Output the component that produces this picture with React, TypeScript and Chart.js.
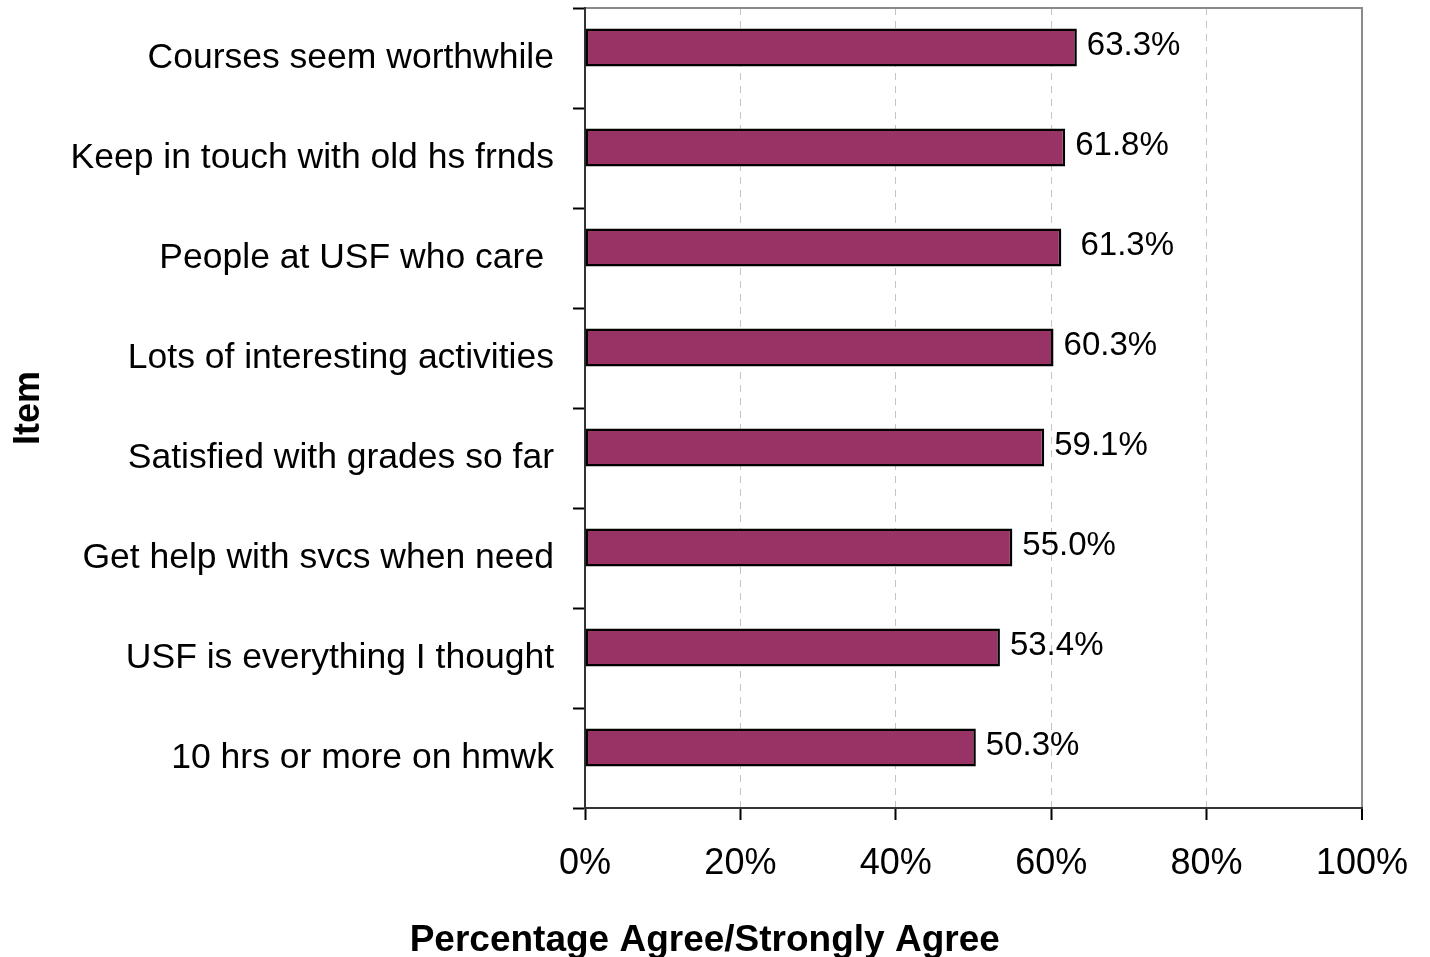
import React, { useEffect, useRef } from "react";
import { Chart, registerables } from "chart.js";

Chart.register(...registerables);

const categories = [
  "Courses seem worthwhile",
  "Keep in touch with old hs frnds",
  "People at USF who care ",
  "Lots of interesting activities",
  "Satisfied with grades so far",
  "Get help with svcs when need",
  "USF is everything I thought",
  "10 hrs or more on hmwk",
];
const values = [63.3, 61.8, 61.3, 60.3, 59.1, 55.0, 53.4, 50.3];
const valueLabels = ["63.3%", "61.8%", " 61.3%", "60.3%", "59.1%", "55.0%", "53.4%", "50.3%"];
const spacerValues = categories.map(() => null);
const xMin = 0;
const xMax = 100;
const xStep = 20;
const xTitle = "Percentage Agree/Strongly Agree  ";
const yTitle = "Item";

const FONT = "'Liberation Sans', Arial, Helvetica, sans-serif";
const TITLE_H = 35;

const valueLabelPlugin = {
  id: "valueLabels",
  afterDatasetsDraw(chart: any) {
    const meta = chart.getDatasetMeta(0);
    const ctx = chart.ctx;
    ctx.save();
    ctx.font = `33px ${FONT}`;
    ctx.fillStyle = "#000";
    ctx.textAlign = "left";
    ctx.textBaseline = "middle";
    meta.data.forEach((el: any, i: number) => {
      ctx.fillText(valueLabels[i], el.x + 10, el.y - 1.5);
    });
    ctx.restore();
  },
};

export default function App() {
  const canvasRef = useRef<HTMLCanvasElement | null>(null);

  useEffect(() => {
    if (!canvasRef.current) return;
    const chart = new Chart(canvasRef.current, {
      type: "bar",
      data: {
        labels: categories,
        datasets: [
          {
            data: values,
            backgroundColor: "#993366",
            borderColor: "#000000",
            borderWidth: 2.5,
            borderSkipped: false,
            categoryPercentage: 0.42,
            barPercentage: 1.81,
          },
          {
            data: spacerValues as any,
            backgroundColor: "rgba(0,0,0,0)",
            borderWidth: 0,
            categoryPercentage: 0.42,
            barPercentage: 1.81,
          },
        ],
      },
      options: {
        indexAxis: "y",
        responsive: false,
        animation: false,
        layout: { padding: { top: 8, left: 0, right: 0, bottom: 0 } },
        plugins: {
          legend: { display: false },
          tooltip: { enabled: false },
          title: {
            display: true,
            position: "bottom",
            text: xTitle,
            color: "#000",
            font: { family: FONT, size: 37, weight: "bold", lineHeight: 1 },
            padding: { top: 0, bottom: -2 },
          },
        },
        scales: {
          x: {
            type: "linear",
            position: "bottom",
            min: xMin,
            max: xMax,
            ticks: {
              stepSize: xStep,
              color: "#000",
              padding: 22,
              font: { family: FONT, size: 36 },
              callback: (v: any) => `${v}%`,
              maxRotation: 0,
            },
            grid: {
              color: (c: any) =>
                c.tick && c.tick.value === xMin
                  ? "rgba(0,0,0,0)"
                  : c.tick && c.tick.value === xMax
                  ? "#8a8a8a"
                  : "#c4c4c4",
              lineWidth: (c: any) => (c.tick && c.tick.value === xMax ? 2 : 1),
              drawTicks: true,
              tickLength: 12,
              tickColor: "#000",
              tickWidth: 2,
            },
            border: {
              display: true,
              color: "#333",
              width: 2,
              dash: (c: any) =>
                c.tick && (c.tick.value === xMin || c.tick.value === xMax) ? [] : [7, 6],
            },
            afterFit: (s: any) => {
              s.height = 957 - TITLE_H - 808;
              s.paddingRight = 68;
              s.paddingTop = 0;
              s.paddingBottom = 0;
            },
          },
          x2: {
            type: "linear",
            position: "top",
            min: xMin,
            max: xMax,
            ticks: { display: false },
            grid: { display: false, drawTicks: false },
            border: { display: true, color: "#8a8a8a", width: 2 },
            afterFit: (s: any) => {
              s.height = 0;
              s.paddingLeft = 0;
              s.paddingRight = 0;
              s.paddingTop = 0;
              s.paddingBottom = 0;
            },
          },
          y: {
            type: "category",
            position: "left",
            ticks: {
              color: "#000",
              padding: 19,
              font: { family: FONT, size: 35.5 },
              autoSkip: false,
            },
            grid: {
              drawOnChartArea: false,
              drawTicks: true,
              tickLength: 12,
              tickColor: "#000",
              tickWidth: 2,
            },
            border: { display: true, color: "#333", width: 2 },
            title: {
              display: true,
              text: yTitle,
              color: "#000",
              font: { family: FONT, size: 36, weight: "bold" },
              padding: { top: 7, bottom: 0 },
            },
            afterFit: (s: any) => {
              s.width = 585;
              s.paddingTop = 0;
              s.paddingBottom = 0;
            },
          },
        },
      } as any,
      plugins: [valueLabelPlugin],
    });
    return () => chart.destroy();
  }, []);

  return (
    <div style={{ position: "absolute", left: 0, top: 0, width: 1430, height: 957, background: "#fff" }}>
      <canvas ref={canvasRef} width={1430} height={957} style={{ display: "block" }} />
    </div>
  );
}
